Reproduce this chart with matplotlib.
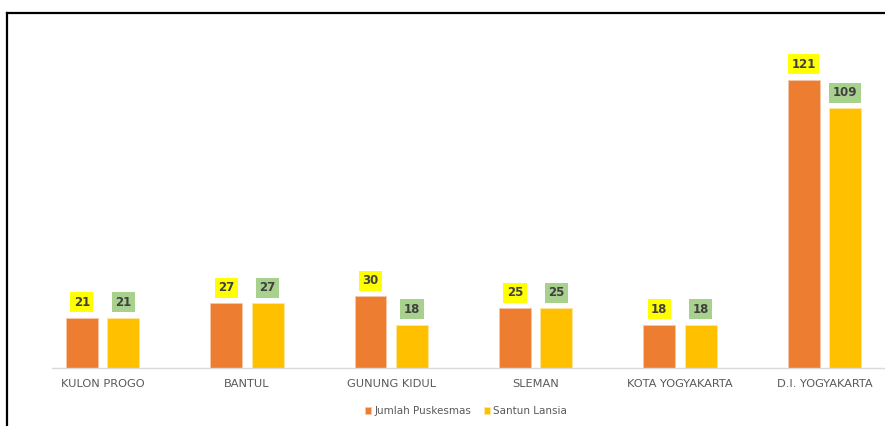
import matplotlib
matplotlib.use("Agg")
import matplotlib.pyplot as plt
from matplotlib.lines import Line2D
import numpy as np

categories = ["KULON PROGO", "BANTUL", "GUNUNG KIDUL", "SLEMAN", "KOTA YOGYAKARTA", "D.I. YOGYAKARTA"]
series_names = ["Jumlah Puskesmas", "Santun Lansia"]
puskesmas = [21, 27, 30, 25, 18, 121]
santun = [21, 27, 18, 25, 18, 109]

plt.rcParams['font.family'] = ['DejaVu Sans']

W, H = 885, 426
fig = plt.figure(figsize=(W/100, H/100), dpi=100)
ax = fig.add_axes([52/W, 1-367.7/H, 1-52/W, (367.7-20)/H])

x = np.arange(len(categories))
bw = 0.221
off = 0.1435
c1, c2 = "#ED7D31", "#FFC000"
b1 = ax.bar(x - off, puskesmas, bw, color=c1, edgecolor="#f6c7a8", linewidth=0.6, label=series_names[0], zorder=2)
b2 = ax.bar(x + off, santun, bw, color=c2, edgecolor="#ffe7a0", linewidth=0.6, label=series_names[1], zorder=2)

for bars, vals, fc in [(b1, puskesmas, "#FFFF00"), (b2, santun, "#A9D18E")]:
    for rect, v in zip(bars, vals):
        ax.annotate(str(v), (rect.get_x() + rect.get_width()/2, v),
                    xytext=(0, 6.5), textcoords="offset points",
                    ha="center", va="bottom", fontsize=8.5, fontweight="bold",
                    color="#404040",
                    bbox=dict(boxstyle="square,pad=0.3", fc=fc, ec="none"))

ax.set_xlim(-0.35, 5.42)
ax.set_ylim(0, 146)
ax.set_xticks(x)
ax.set_xticklabels(categories, fontsize=8.2, color="#595959")
ax.tick_params(axis="x", length=0, pad=8)
ax.set_yticks([])
for s in ["top", "right", "left"]:
    ax.spines[s].set_visible(False)
ax.spines["bottom"].set_color("#d9d9d9")
ax.spines["bottom"].set_linewidth(1)

leg = fig.legend(handles=[b1, b2], labels=series_names, loc="center",
                 bbox_to_anchor=(466/W, 1-411/H), ncol=2, frameon=False,
                 fontsize=7.5, handlelength=0.6, handleheight=0.6,
                 handletextpad=0.3, columnspacing=1.2)
for t in leg.get_texts():
    t.set_color("#595959")

fig.add_artist(Line2D([7/W, 1.0], [1-13/H, 1-13/H], transform=fig.transFigure, color="black", linewidth=1.6))
fig.add_artist(Line2D([7/W, 7/W], [0, 1-13/H], transform=fig.transFigure, color="black", linewidth=1.6))

fig.savefig("out.png", dpi=100)
